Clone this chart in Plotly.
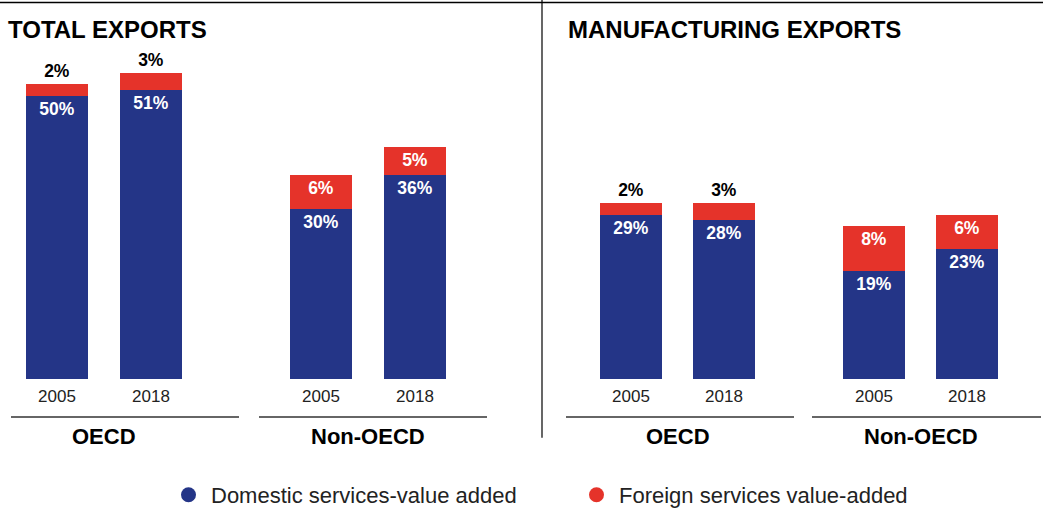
import plotly.graph_objects as go

# ---------------- data ----------------
panels = ["TOTAL EXPORTS", "MANUFACTURING EXPORTS"]
groups = ["OECD", "Non-OECD"]
years = ["2005", "2018"]
domestic = [50, 51, 30, 36, 29, 28, 19, 23]   # Domestic services-value added (%)
foreign = [2, 3, 6, 5, 2, 3, 8, 6]            # Foreign services value-added (%)
series_names = ["Domestic services-value added", "Foreign services value-added"]

# ---------------- layout constants ----------------
W, H = 1043, 516
BLUE = "#243587"
RED = "#e5332a"
FONT = "Liberation Sans"
panel_first = [57, 631]
year_step = [94, 93]
group_step = [264, 243]
panel_title_x = [6, 566]
group_line_ext = [(11, 239), (259, 487), (566, 794), (812, 1041)]
baseline_px = 383
px_per_unit = 5.73

xs, tick_text, group_centers, group_labels, outside = [], [], [], [], []
for p in range(len(panels)):
    for g in range(len(groups)):
        cx = []
        for yi in range(len(years)):
            x = panel_first[p] + g * group_step[p] + yi * year_step[p]
            xs.append(x)
            cx.append(x)
            tick_text.append(years[yi])
            outside.append(groups[g] == "OECD")
        group_centers.append(sum(cx) / len(cx))
        group_labels.append(groups[g])

fig = go.Figure()
fig.add_trace(go.Bar(
    x=xs, y=domestic, width=62, marker=dict(color=BLUE, line=dict(width=0)),
    texttemplate="%{y}%", textposition="inside", insidetextanchor="end",
    insidetextfont=dict(family=FONT, size=17.5, color="white", weight=700),
    constraintext="none", showlegend=False, hoverinfo="skip", cliponaxis=False,
))
fig.add_trace(go.Bar(
    x=xs, y=foreign, width=62, marker=dict(color=RED, line=dict(width=0)),
    texttemplate="%{y}%",
    textposition=["outside" if o else "inside" for o in outside],
    insidetextanchor="end",
    insidetextfont=dict(family=FONT, size=17.5, color="white", weight=700),
    outsidetextfont=dict(family=FONT, size=17.5, color="black", weight=700),
    constraintext="none", showlegend=False, hoverinfo="skip", cliponaxis=False,
))

# legend entries (round markers)
for name, col, lg in [(series_names[0], BLUE, "legend"), (series_names[1], RED, "legend2")]:
    fig.add_trace(go.Scatter(
        x=[None], y=[None], mode="markers", name=name, legend=lg,
        marker=dict(color=col, size=15, symbol="circle"), hoverinfo="skip",
    ))

shapes = [
    dict(type="line", xref="paper", yref="paper", x0=0, x1=1, y0=1 - 2.5 / H, y1=1 - 2.5 / H,
         line=dict(color="black", width=1.5)),
    dict(type="line", xref="x", yref="paper", x0=542, x1=542, y0=1, y1=1 - 442 / H,
         line=dict(color="black", width=1.2)),
]
for (a, b) in group_line_ext:
    shapes.append(dict(type="line", xref="x", yref="paper", x0=a, x1=b,
                       y0=1 - 421 / H, y1=1 - 421 / H, line=dict(color="#333333", width=1.5)))

annotations = []
for p, t in enumerate(panels):
    annotations.append(dict(text=t, xref="x", yref="paper", x=panel_title_x[p], y=1 - 30 / H,
                            xanchor="left", yanchor="middle", showarrow=False,
                            font=dict(family=FONT, size=24, color="black", weight=700)))
for cx, lab in zip(group_centers, group_labels):
    annotations.append(dict(text=lab, xref="x", yref="paper", x=cx, y=1 - 441 / H,
                            xanchor="center", yanchor="middle", showarrow=False,
                            font=dict(family=FONT, size=22, color="black", weight=700)))

fig.update_layout(
    width=W, height=H, autosize=False, barmode="stack",
    margin=dict(l=0, r=0, t=0, b=0, pad=0),
    plot_bgcolor="white", paper_bgcolor="white",
    shapes=shapes, annotations=annotations,
    xaxis=dict(range=[0, W], domain=[0, 1], tickvals=xs, ticktext=tick_text,
               showgrid=False, zeroline=False, showline=False, ticks="",
               ticklabelstandoff=5, fixedrange=True,
               tickfont=dict(family=FONT, size=17, color="#222222")),
    yaxis=dict(domain=[(H - baseline_px) / H, 1], range=[0, baseline_px / px_per_unit],
               visible=False, fixedrange=True),
    legend=dict(x=166 / W, y=1 - 500 / H, xanchor="left", yanchor="middle",
                orientation="h", itemwidth=35,
                font=dict(family=FONT, size=22, color="#222222"),
                bgcolor="rgba(0,0,0,0)"),
    legend2=dict(x=574 / W, y=1 - 500 / H, xanchor="left", yanchor="middle",
                 orientation="h", itemwidth=35,
                 font=dict(family=FONT, size=22, color="#222222"),
                 bgcolor="rgba(0,0,0,0)"),
    showlegend=True,
)

# make the page margin-free and let the figure fill the full viewport height
page_fix = (
    "var d=document.documentElement,b=document.body;"
    "[d,b].forEach(function(e){e.style.margin='0';e.style.padding='0';e.style.overflow='hidden';});"
    "var gd=document.getElementById('{plot_id}');"
    "var hh=window.innerHeight||" + str(H) + ";"
    "gd.style.height=hh+'px';"
    "Plotly.relayout(gd,{height:hh});"
)
fig.write_html("out.html", config={"displayModeBar": False, "responsive": False},
               post_script=page_fix)
